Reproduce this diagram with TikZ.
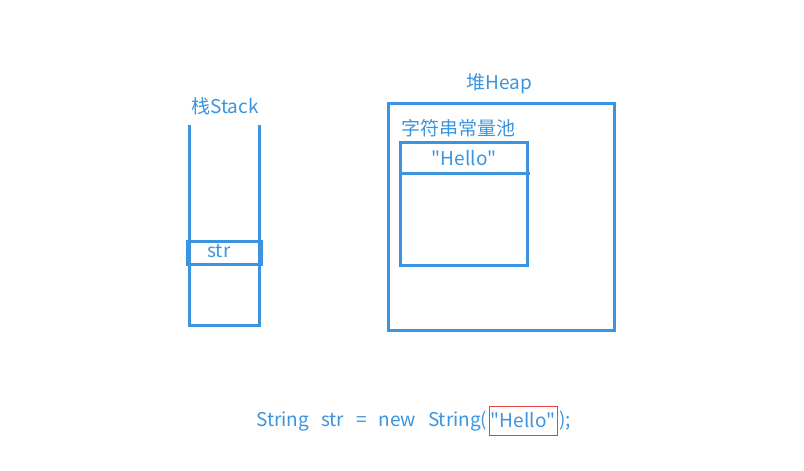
\documentclass[tikz,border=0pt]{standalone}
\usepackage{fontspec}
\setmainfont{Noto Sans CJK SC}[Ligatures=TeXOff]
\usepackage{xcolor}
\usetikzlibrary{positioning}
\definecolor{memblue}{HTML}{3B94DF}
\definecolor{boxred}{HTML}{E8403A}
\newcommand{\gap}{\hspace{12pt}}
\tikzstyle{wall} = [draw=memblue, line width=3pt]
\tikzstyle{label} = [text=memblue, font=\fontsize{19}{21}\selectfont, inner sep=0pt]

\begin{document}
\begin{tikzpicture}[x=1pt, y=-1pt]
      \useasboundingbox (0,0) rectangle (804,471);
      % Stack
      \draw [wall] (189,125) -- (189,325) -- (259,325) -- (259,125);
      \node [wall, minimum width=74pt, minimum height=23pt, inner sep=0pt] (str) at (224,252.5) {};
      \node [label] at (219,251) {str};
      \node [label] (stack) at (225,106) {栈Stack};

      % Heap
      \node [wall, minimum width=226pt, minimum height=227pt, inner sep=0pt] (heap) at (501,216.5) {};
      \node [label] (heaplabel) at (499,84) {堆Heap};
      \node [label, anchor=west] (pool) at (401,128) {字符串常量池};
      \node [wall, minimum width=127pt, minimum height=123pt, inner sep=0pt] (constpool) at (463.5,203.5) {};
      \draw [wall] (400,173) -- (530,173);
      \node [label] (hello) at (464,158) {"Hello"};

      % Code line
      \node [label, anchor=west] (code) at (256,421) {String\gap str\gap =\gap new\gap String(};
      \node [label, draw=boxred, line width=1pt, minimum width=68pt, minimum height=29pt] (lit) at (523,420.5) {"Hello"};
      \node [label, anchor=west] (close) at (559,421) {);};
\end{tikzpicture}
\end{document}
